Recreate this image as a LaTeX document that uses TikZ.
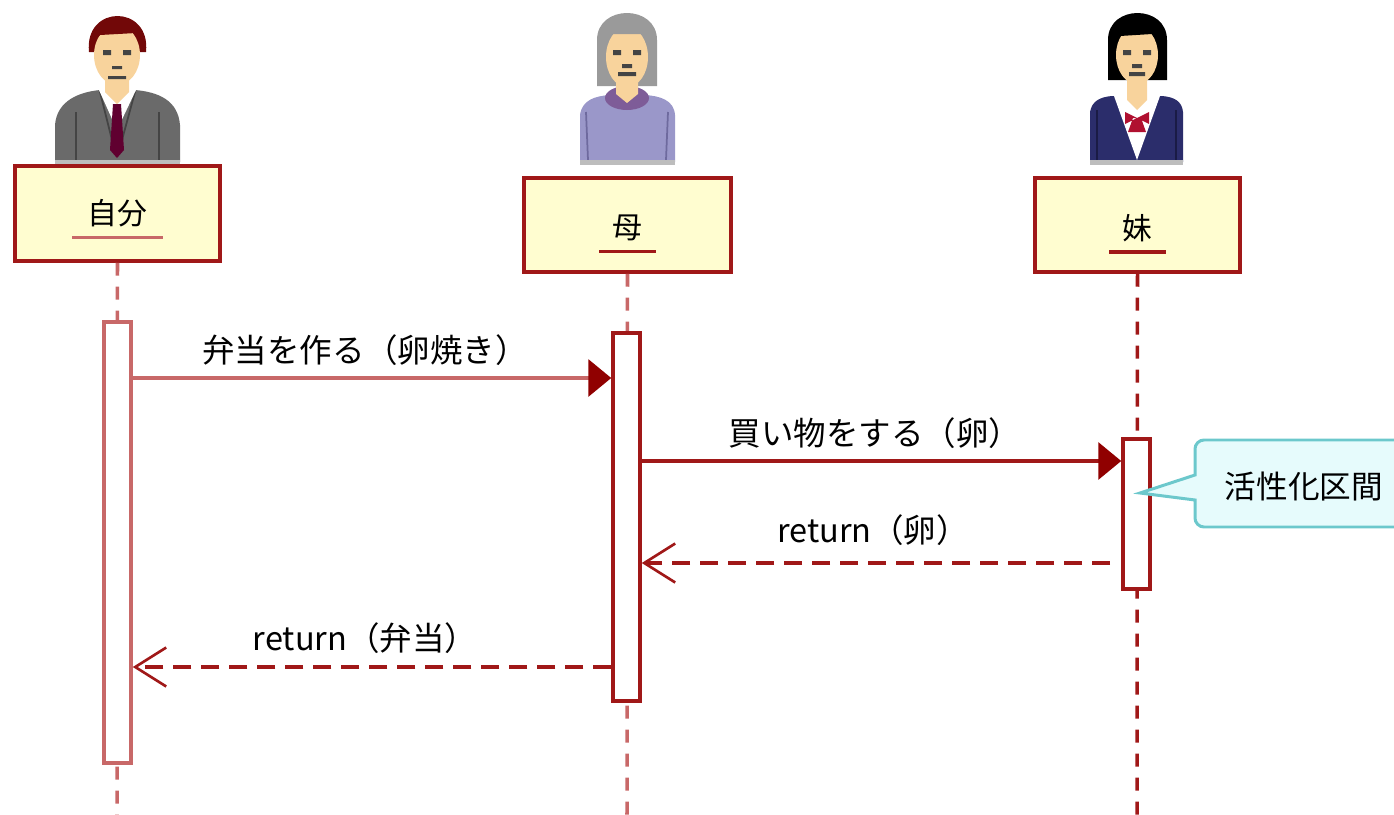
\documentclass[tikz,border=0pt]{standalone}
\usepackage{fontspec}
\setmainfont{Noto Sans CJK JP}
\usetikzlibrary{arrows.meta}
\usetikzlibrary{positioning}

\definecolor{boxfill}{HTML}{FFFDD0}
\definecolor{darkred}{HTML}{A01818}
\definecolor{palered}{HTML}{C86868}
\definecolor{tipred}{HTML}{900000}
\definecolor{notefill}{HTML}{E6FBFC}
\definecolor{notedraw}{HTML}{6CC8CC}
\definecolor{skin}{HTML}{F8D39C}
\definecolor{suitgray}{HTML}{6A6A6A}
\definecolor{suitdark}{HTML}{444444}
\definecolor{tiered}{HTML}{600030}
\definecolor{hairred}{HTML}{720808}
\definecolor{hairgray}{HTML}{9A9A9A}
\definecolor{sweater}{HTML}{9A97C9}
\definecolor{sweaterdark}{HTML}{6E6A9E}
\definecolor{neckpurple}{HTML}{7E5C98}
\definecolor{navy}{HTML}{2B2D6B}
\definecolor{navydark}{HTML}{1A1B45}
\definecolor{ribbon}{HTML}{B01030}
\definecolor{strip}{HTML}{BDBDBD}

\tikzset{
  actorbox/.style={draw=darkred, fill=boxfill, line width=2pt,
    minimum width=4.1cm, minimum height=1.9cm},
  actorname/.style={inner sep=0pt, font=\fontsize{17}{20}\selectfont},
  nameline/.style={palered, line width=2pt},
  lifeline/.style={palered, line width=2pt, dash pattern=on 0.26cm off 0.22cm},
  actbar/.style={draw=darkred, fill=white, line width=2pt,
    minimum width=0.54cm, inner sep=0pt},
  msg/.style={palered, line width=2pt,
    -{Triangle[length=0.46cm,width=0.74cm,color=tipred]}},
  reply/.style={darkred, line width=2pt, dash pattern=on 0.36cm off 0.2cm,
    -{Straight Barb[length=0.62cm,width=0.78cm,line width=1.5pt]}},
  msglabel/.style={inner sep=0pt, font=\fontsize{18.5}{22}\selectfont},
  notetext/.style={inner sep=0pt, font=\fontsize{18}{21}\selectfont},
  callout/.style={draw=notedraw, fill=notefill, line width=1.7pt},
  face/.style={fill=skin},
  eye/.style={fill=suitdark},
}

\begin{document}
\begin{tikzpicture}[x=0.02cm, y=-0.02cm]
  \useasboundingbox (0,0) rectangle (1394,815);
  \clip (0,0) rectangle (1394,815);

  % --- the three people ---
  % 自分
  \fill[hairred] (89,52) .. controls (84,4) and (151,4) .. (146,52) -- cycle;
  \fill[suitgray] (55,162) -- (55,125) .. controls (57,100) and (80,92) .. (100,90)
    -- (135,90) .. controls (158,92) and (178,100) .. (180,125) -- (180,162) -- cycle;
  \draw[suitdark, line width=1pt] (100,92) -- (112,140) (135,92) -- (122,140)
    (76,112) -- (76,160) (159,112) -- (159,160);
  \fill[white] (99,90) -- (136,90) -- (117,130) -- cycle;
  \fill[tiered] (113,104) -- (121,104) -- (124,150) -- (117,158) -- (110,150) -- cycle;
  \fill[face] (105,72) -- (129,72) -- (129,92) -- (117,104) -- (105,92) -- cycle;
  \fill[face] (117,55) ellipse [x radius=23, y radius=30];
  \fill[hairred] (93,44) .. controls (94,12) and (141,12) .. (142,44)
    -- (136,33) -- (100,35) -- cycle;
  \fill[eye] (103,50) rectangle (111,55) (123,50) rectangle (131,55);
  \fill[suitdark] (112,66) rectangle (122,69) (108,76) rectangle (126,79);
  \fill[strip] (55,160) rectangle (180,165);

  % 母
  \fill[hairgray] (597,86) -- (597,40) .. controls (597,4) and (657,4) .. (657,40)
    -- (657,86) -- cycle;
  \fill[sweater] (580,162) -- (580,115) .. controls (582,100) and (595,96) .. (610,95)
    -- (645,95) .. controls (660,96) and (674,100) .. (675,115) -- (675,162) -- cycle;
  \draw[sweaterdark, line width=1pt] (586,112) -- (588,160) (668,112) -- (666,160);
  \fill[neckpurple] (627,98) ellipse [x radius=22, y radius=12];
  \fill[face] (616,78) -- (638,78) -- (638,94) -- (627,103) -- (616,94) -- cycle;
  \fill[face] (627,57) ellipse [x radius=21, y radius=30];
  \fill[hairgray] (603,46) .. controls (603,16) and (651,16) .. (651,46)
    -- (644,34) -- (610,34) -- cycle;
  \fill[eye] (613,50) rectangle (621,55) (633,50) rectangle (641,55);
  \fill[suitdark] (622,64) rectangle (632,68) (618,72) rectangle (636,76);
  \fill[strip] (580,160) rectangle (675,165);

  % 妹
  \fill[black] (1108,80) -- (1108,40) .. controls (1108,4) and (1167,4) .. (1167,40)
    -- (1167,80) -- cycle;
  \fill[navy] (1090,162) -- (1090,112) .. controls (1092,101) and (1100,97) .. (1112,96)
    -- (1162,96) .. controls (1174,97) and (1182,101) .. (1183,112) -- (1183,162) -- cycle;
  \draw[navydark, line width=1pt] (1097,110) -- (1097,160) (1176,110) -- (1176,160);
  \fill[white] (1114,96) -- (1160,96) -- (1137,160) -- cycle;
  \fill[face] (1127,76) -- (1147,76) -- (1147,100) -- (1137,110) -- (1127,100) -- cycle;
  \fill[face] (1137,55) ellipse [x radius=21, y radius=29];
  \fill[black] (1114,46) .. controls (1114,14) and (1160,14) .. (1160,46)
    -- (1152,34) -- (1120,36) -- cycle;
  \fill[ribbon] (1125,112) -- (1137,118) -- (1125,124) -- cycle
    (1149,112) -- (1137,118) -- (1149,124) -- cycle (1133,118) -- (1128,132) -- (1146,132) -- (1141,118) -- cycle;
  \fill[eye] (1123,50) rectangle (1131,55) (1143,50) rectangle (1151,55);
  \fill[suitdark] (1132,64) rectangle (1142,68) (1129,72) rectangle (1145,76);
  \fill[strip] (1090,160) rectangle (1183,165);

  % --- lifeline heads ---
  \node[actorbox] (jibun) at (117.5,213.5) {};
  \node[actorbox, minimum height=1.88cm, minimum width=4.14cm] (haha) at (627.5,225) {};
  \node[actorbox, minimum height=1.88cm] (imouto) at (1137.5,225) {};

  \node[actorname] (jibunName) at (jibun.center) {自分};
  \node[actorname] (hahaName) at ([yshift=-0.06cm]haha.center) {母};
  \node[actorname] (imoutoName) at ([yshift=-0.06cm]imouto.center) {妹};
  \draw[nameline] ([xshift=-0.3cm,yshift=-0.2cm]jibunName.south west)
    -- ([xshift=0.3cm,yshift=-0.2cm]jibunName.south east);
  \draw[nameline, darkred] ([xshift=-0.26cm,yshift=-0.2cm]hahaName.south west)
    -- ([xshift=0.26cm,yshift=-0.2cm]hahaName.south east);
  \draw[nameline, darkred] ([xshift=-0.26cm,yshift=-0.2cm]imoutoName.south west)
    -- ([xshift=0.26cm,yshift=-0.2cm]imoutoName.south east);

  % lifelines
  \coordinate (jibunEnd) at (117,815);
  \coordinate (hahaEnd) at (627,815);
  \coordinate (imoutoEnd) at (1137,815);
  \draw[lifeline] (jibun.south) -- (jibunEnd);
  \draw[lifeline] (haha.south) -- (hahaEnd);
  \draw[lifeline, darkred] (imouto.south) -- (imoutoEnd);

  % activation bars
  \node[actbar, draw=palered, minimum height=8.82cm] (act1) at (117.5,542.5) {};
  \node[actbar, minimum height=7.36cm] (act2) at (626.5,517) {};
  \node[actbar, minimum height=3.0cm] (act3) at (1136.5,514) {};

  % --- messages ---
  \coordinate (m1) at (0,378);
  \coordinate (m2) at (0,461);
  \coordinate (r1) at (1110,563);
  \coordinate (r2) at (0,667);

  \draw[msg] (act1.east |- m1) -- (act2.west |- m1);
  \draw[msg, darkred] (act2.east |- m2) -- (act3.west |- m2);
  \draw[reply] (r1) -- (act2.east |- r1);
  \draw[reply] (act2.west |- r2) -- (act1.east |- r2);

  \node[msglabel] (m1Label) at (365,350) {弁当を作る（卵焼き）};
  \node[msglabel] (m2Label) at (875,433) {買い物をする（卵）};
  \node[msglabel] (r1Label) at (873,530) {return（卵）};
  \node[msglabel] (r2Label) at (365,638) {return（弁当）};

  % note on the activation of 妹
  \draw[callout] (1195,500) [rounded corners=0.18cm] -- (1195,527) -- (1420,527)
    -- (1420,440) -- (1195,440) [sharp corners] -- (1195,475) -- (1140,493) -- cycle;
  \node[notetext] (note) at (1304,487) {活性化区間};
\end{tikzpicture}
\end{document}
